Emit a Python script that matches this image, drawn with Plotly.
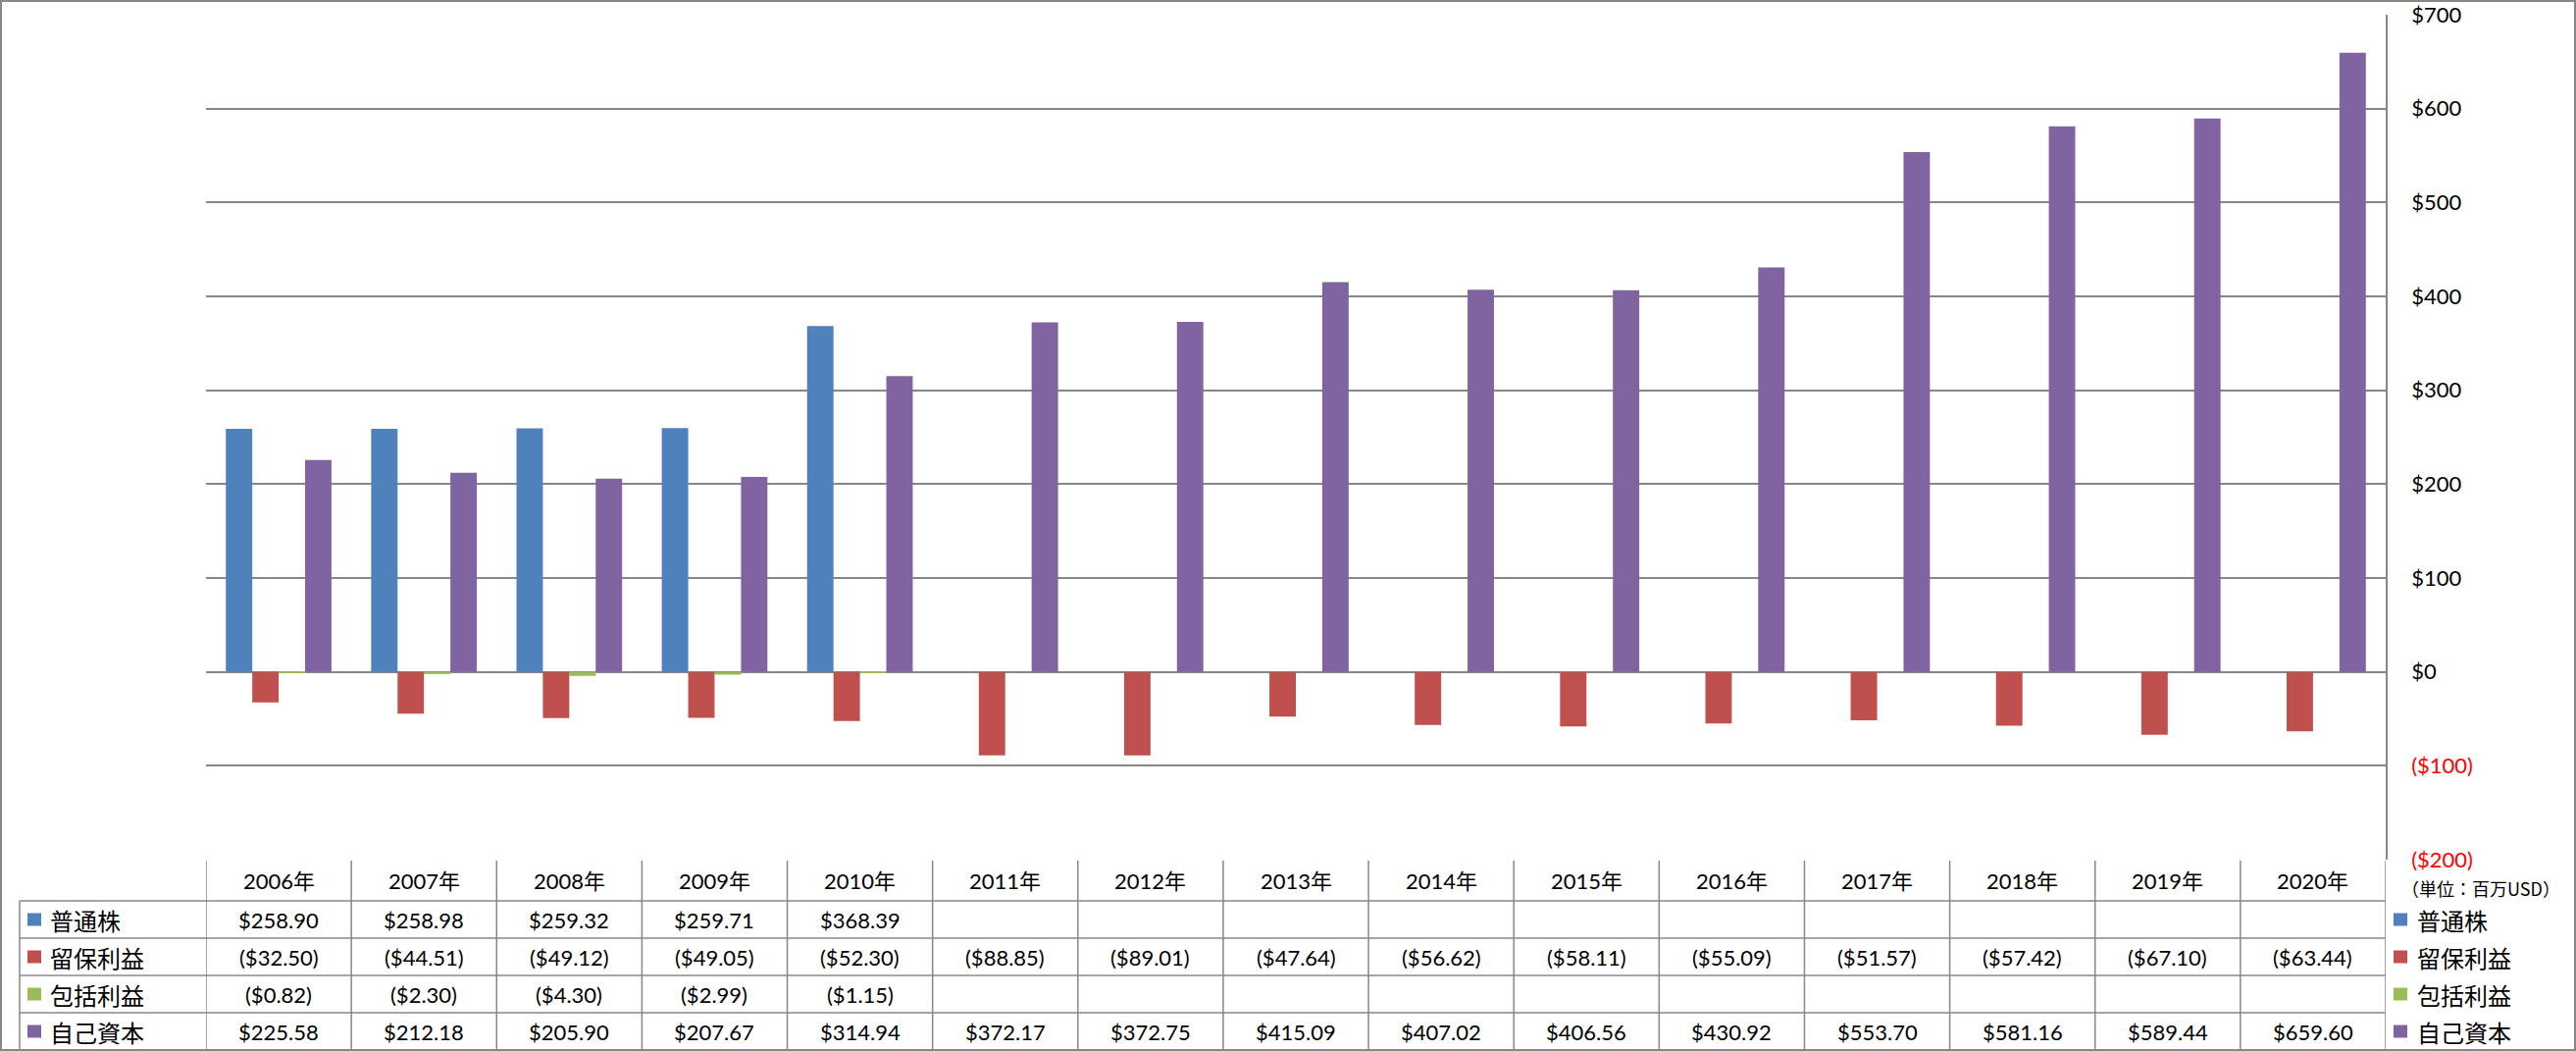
import plotly.graph_objects as go

# ---------------- data ----------------
years = ["2006年", "2007年", "2008年", "2009年", "2010年", "2011年", "2012年", "2013年",
         "2014年", "2015年", "2016年", "2017年", "2018年", "2019年", "2020年"]
series_names = ["普通株", "留保利益", "包括利益", "自己資本"]
common_stock = [258.90, 258.98, 259.32, 259.71, 368.39, None, None, None,
                None, None, None, None, None, None, None]
retained_earnings = [-32.50, -44.51, -49.12, -49.05, -52.30, -88.85, -89.01, -47.64,
                     -56.62, -58.11, -55.09, -51.57, -57.42, -67.10, -63.44]
comprehensive_income = [-0.82, -2.30, -4.30, -2.99, -1.15, None, None, None,
                        None, None, None, None, None, None, None]
equity = [225.58, 212.18, 205.90, 207.67, 314.94, 372.17, 372.75, 415.09,
          407.02, 406.56, 430.92, 553.70, 581.16, 589.44, 659.60]
tick_values = [-200, -100, 0, 100, 200, 300, 400, 500, 600, 700]
unit_label = "（単位：百万USD）"

colors = ["#4F81BD", "#C0504D", "#9BBB59", "#8064A2"]
all_series = [common_stock, retained_earnings, comprehensive_income, equity]

# ---------------- geometry helpers ----------------
W, H = 2626, 1071
def px(x):
    return x / W
def py(y):
    return 1 - y / H

GRID = "#878787"
FONT = "Lato, 'Noto Sans CJK JP', sans-serif"
CJK = "'Noto Sans CJK JP', sans-serif"

def fmt(v):
    if v is None:
        return ""
    if v < 0:
        return f"(${abs(v):,.2f})"
    return f"${v:,.2f}"

def tick_fmt(v):
    if v < 0:
        return f"<span style='color:#FF0000'>(${abs(v)})</span>"
    return f"${v}"

fig = go.Figure()
for name, vals, col in zip(series_names, all_series, colors):
    fig.add_trace(go.Bar(x=years, y=vals, name=name, marker=dict(color=col, line=dict(width=0))))

plot_top, plot_bottom = 15, 876
row_lines = [918, 956, 994, 1032, 1070]
header_center = (877 + 918) / 2
row_centers = [(row_lines[i] + row_lines[i + 1]) / 2 for i in range(4)]

shapes = []
# outer chart border
shapes.append(dict(type="rect", xref="paper", yref="paper", x0=px(1), x1=px(W - 1),
                   y0=py(H - 1), y1=py(1), line=dict(color=GRID, width=2)))
# table horizontal lines
for yl in row_lines:
    shapes.append(dict(type="line", xref="paper", yref="paper", x0=px(20), x1=px(2432),
                       y0=py(yl), y1=py(yl), line=dict(color=GRID, width=1.5)))
# table vertical lines at category boundaries
for i in range(len(years) + 1):
    shapes.append(dict(type="line", xref="x", yref="paper", x0=i - 0.5, x1=i - 0.5,
                       y0=py(877), y1=py(1070), line=dict(color=GRID, width=1.5)))
# left border of row labels
shapes.append(dict(type="line", xref="paper", yref="paper", x0=px(20), x1=px(20),
                   y0=py(918), y1=py(1070), line=dict(color=GRID, width=1.5)))

annotations = []
# header
for yr in years:
    annotations.append(dict(x=yr, y=py(header_center), xref="x", yref="paper", text=yr,
                            showarrow=False, xanchor="center", yanchor="middle",
                            font=dict(family=FONT, size=22, color="#000000")))
# values
for r, vals in enumerate(all_series):
    for yr, v in zip(years, vals):
        if v is None:
            continue
        annotations.append(dict(x=yr, y=py(row_centers[r]), xref="x", yref="paper", text=fmt(v),
                                showarrow=False, xanchor="center", yanchor="middle",
                                font=dict(family=FONT, size=22, color="#000000")))
# row labels (left) and legend (right)
for r, (name, col) in enumerate(zip(series_names, colors)):
    yc = row_centers[r]
    for sx, tx in ((28, 49), (2440, 2462)):
        shapes.append(dict(type="rect", xref="paper", yref="paper", x0=px(sx), x1=px(sx + 14),
                           y0=py(yc + 6.5), y1=py(yc - 6.5), fillcolor=col, line=dict(width=0)))
        annotations.append(dict(x=px(tx), y=py(yc), xref="paper", yref="paper", text=name,
                                showarrow=False, xanchor="left", yanchor="middle",
                                font=dict(family=CJK, size=24, color="#000000")))
# unit label
annotations.append(dict(x=px(2446), y=py(905), xref="paper", yref="paper", text=unit_label,
                        showarrow=False, xanchor="left", yanchor="middle",
                        font=dict(family=CJK, size=18, color="#000000")))

fig.update_layout(
    template="none",
    width=W, height=H,
    margin=dict(l=0, r=0, t=0, b=0, pad=0, autoexpand=False),
    paper_bgcolor="white", plot_bgcolor="white",
    barmode="group", bargap=0.273, bargroupgap=0,
    showlegend=False,
    xaxis=dict(type="category", domain=[px(210), px(2432)], range=[-0.5, len(years) - 0.5],
               automargin=False,
               showticklabels=False, showgrid=False, zeroline=False, showline=False, ticks=""),
    yaxis=dict(side="right", domain=[py(plot_bottom), py(plot_top)], range=[-200, 700],
               automargin=False,
               tickvals=tick_values, ticktext=[tick_fmt(v) for v in tick_values],
               showgrid=True, gridcolor=GRID, gridwidth=1.5,
               zeroline=True, zerolinecolor=GRID, zerolinewidth=1.5,
               showline=True, linecolor=GRID, linewidth=1.5, ticks="",
               ticklabelstandoff=20,
               tickfont=dict(family=FONT, size=22, color="#000000")),
    shapes=shapes, annotations=annotations,
)

fig.write_html(
    "out.html",
    config={"displayModeBar": False},
    post_script="document.body.style.margin='0';document.documentElement.style.overflow='hidden';",
)
